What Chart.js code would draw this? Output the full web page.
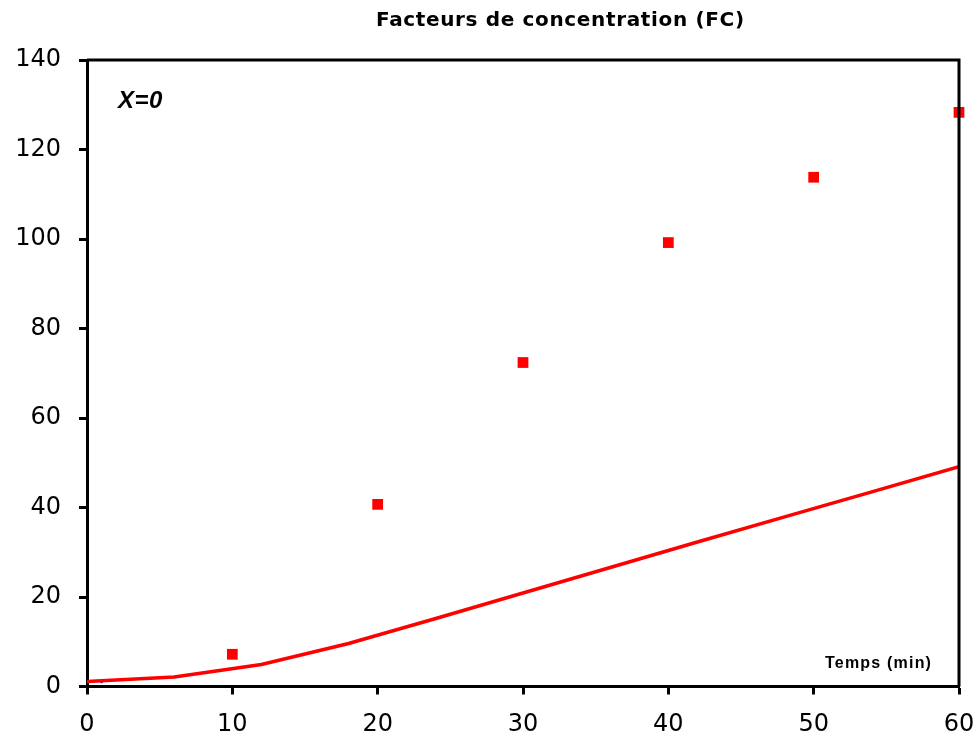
<!DOCTYPE html>
<html>
<head>
<meta charset="utf-8">
<script src="https://cdn.jsdelivr.net/npm/chart.js@4.4.1/dist/chart.umd.min.js"></script>
<style>
html,body{margin:0;padding:0;background:#fff;}
#wrap{width:978px;height:740px;position:relative;}
</style>
</head>
<body>
<div id="wrap"><canvas id="c" width="978" height="740"></canvas></div>
<script>
const chartTitle = "Facteurs de concentration (FC)";
const annotationLabel = "X=0";
const xAxisLabel = "Temps (min)";

const measuredTimes = [10, 20, 30, 40, 50, 60];
const measuredFC = [7.2, 40.7, 72.4, 99.2, 113.8, 128.3];

const modelTimes = [0, 6, 12, 18, 24, 30, 36, 42, 48, 54, 60];
const modelFC = [1.1, 2.1, 4.9, 9.6, 15.2, 20.9, 26.6, 32.3, 37.9, 43.5, 49.1];

const blueTimes = [1];
const blueFC = [1];

const xTicks = [0, 10, 20, 30, 40, 50, 60];
const yTicks = [0, 20, 40, 60, 80, 100, 120, 140];

const toXY = (xs, ys) => xs.map((x, i) => ({x: x, y: ys[i]}));

const FONT = "'Liberation Sans', Arial, sans-serif";
const TICKFONT = "'DejaVu Sans', sans-serif";

const framePlugin = {
  id: 'frame',
  afterDatasetsDraw(chart) {
    const {ctx, chartArea: a} = chart;
    ctx.save();
    ctx.strokeStyle = '#000';
    ctx.lineWidth = 3;
    ctx.beginPath();
    ctx.moveTo(a.left, a.top);
    ctx.lineTo(a.right, a.top);
    ctx.lineTo(a.right, a.bottom);
    ctx.stroke();
    ctx.restore();
  },
  afterDraw(chart) {
    const {ctx} = chart;
    ctx.save();
    ctx.fillStyle = '#000';
    ctx.textBaseline = 'alphabetic';
    ctx.textAlign = 'left';
    // title
    ctx.letterSpacing = '0px';
    ctx.font = "bold 20px 'DejaVu Sans', sans-serif";
    const w0 = ctx.measureText(chartTitle).width;
    const target = 368;
    const sp = (target - w0) / (chartTitle.length - 1);
    ctx.letterSpacing = sp.toFixed(2) + 'px';
    ctx.fillText(chartTitle, 376, 26);
    // X=0
    ctx.letterSpacing = '0.5px';
    ctx.font = "italic bold 24px " + FONT;
    ctx.fillText(annotationLabel, 118, 108);
    // axis label
    ctx.font = "bold 16px " + FONT;
    ctx.letterSpacing = '1.2px';
    ctx.fillText(xAxisLabel, 825, 668);
    ctx.restore();
  }
};

new Chart(document.getElementById('c'), {
  type: 'scatter',
  data: {
    datasets: [
      {
        label: 'modèle',
        type: 'line',
        data: toXY(modelTimes, modelFC),
        borderColor: '#ff0000',
        borderWidth: 3.5,
        pointRadius: 0,
        tension: 0,
        fill: false,
        order: 2
      },
      {
        label: 'mesures',
        data: toXY(measuredTimes, measuredFC),
        backgroundColor: '#ff0000',
        borderColor: '#ff0000',
        borderWidth: 0,
        pointStyle: 'rect',
        pointRadius: 7.6,
        clip: false,
        order: 1
      },
      {
        label: 'bleu',
        data: toXY(blueTimes, blueFC),
        backgroundColor: '#0000ff',
        borderWidth: 0,
        pointRadius: 1.3,
        order: 3
      }
    ]
  },
  options: {
    responsive: false,
    animation: false,
    devicePixelRatio: 1,
    layout: { padding: { top: 60, right: 19, left: 0, bottom: 0 } },
    plugins: {
      legend: { display: false },
      tooltip: { enabled: false },
      title: { display: false }
    },
    scales: {
      x: {
        type: 'linear',
        min: 0, max: 60,
        afterBuildTicks: (s) => { s.ticks = xTicks.map(v => ({value: v})); },
        afterFit: (s) => { s.height = 53.5; s.paddingLeft = 0; s.paddingRight = 0; },
        border: { color: '#000', width: 3 },
        grid: { drawOnChartArea: false, drawTicks: true, tickLength: 8, tickWidth: 3, tickColor: '#000', color: '#000' },
        ticks: { color: '#000', font: { family: TICKFONT, size: 24 }, padding: 16, maxRotation: 0 }
      },
      y: {
        type: 'linear',
        min: 0, max: 140,
        afterBuildTicks: (s) => { s.ticks = yTicks.map(v => ({value: v})); },
        afterFit: (s) => { s.width = 87; s.paddingTop = 0; s.paddingBottom = 0; },
        border: { color: '#000', width: 3 },
        grid: { drawOnChartArea: false, drawTicks: true, tickLength: 8, tickWidth: 3, tickColor: '#000', color: '#000' },
        ticks: { color: '#000', font: { family: TICKFONT, size: 24 }, padding: 18 }
      }
    }
  },
  plugins: [framePlugin]
});
</script>
</body>
</html>
